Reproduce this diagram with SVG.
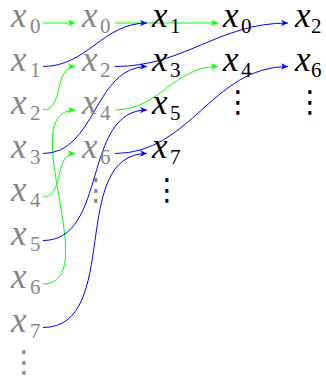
<svg xmlns="http://www.w3.org/2000/svg" width="326" height="376" viewBox="0 0 326 376">
<style>
.v{font-family:'Liberation Serif','DejaVu Serif',serif;font-style:italic;font-size:35px}
.s{font-family:'Liberation Serif','DejaVu Serif',serif;font-style:normal;font-size:21px}
.g{fill:#868686}
.k{fill:#000}
.d{font-family:'DejaVu Sans',sans-serif;font-size:30px;text-anchor:middle}
.lg{fill:none;stroke:#00ff00;stroke-width:1;marker-end:url(#ag)}
.lb{fill:none;stroke:#0000ff;stroke-width:1;marker-end:url(#ab)}
</style>
<defs>
<marker id="ag" markerUnits="userSpaceOnUse" markerWidth="10" markerHeight="10" viewBox="-8 -5 10 10" refX="0" refY="0" orient="auto" overflow="visible"><path d="M0,0 L-7,-3.3 L-5,0 L-7,3.3 Z" fill="#00ff00"/></marker>
<marker id="ab" markerUnits="userSpaceOnUse" markerWidth="10" markerHeight="10" viewBox="-8 -5 10 10" refX="0" refY="0" orient="auto" overflow="visible"><path d="M0,0 L-7,-3.3 L-5,0 L-7,3.3 Z" fill="#0000ff"/></marker>
</defs>
<g id="connectors">
<path class="lg" d="M43,23 L75,23"/>
<path class="lg" d="M43,110 C64.3,110 53.7,66.5 75,66.5"/>
<path class="lg" d="M43,197 C64.1,197 53.9,153.5 75,153.5"/>
<path class="lg" d="M43,284 C105,284 13,110 75,110"/>
<path class="lg" d="M115,23 L218,23"/>
<path class="lg" d="M115,110 C158.8,110 174.2,66.5 218,66.5"/>
<path class="lb" d="M43,66.5 C87.1,66.5 102.9,23 147,23"/>
<path class="lb" d="M43,153.5 C96.1,153.5 93.9,66.5 147,66.5"/>
<path class="lb" d="M43,240.5 C108.3,240.5 81.7,110 147,110"/>
<path class="lb" d="M43,327.5 C122.4,327.5 67.6,153.5 147,153.5"/>
<path class="lb" d="M115,66.5 C184.8,66.5 218.2,23 288,23"/>
<path class="lb" d="M115,153.5 C190.8,153.5 212.2,66.5 288,66.5"/>
</g>
<g id="c1" class="g">
<g id="a0"><text class="v" x="11" y="27">x</text><text class="s" x="30" y="33">0</text></g>
<g id="a1"><text class="v" x="11" y="70.5">x</text><text class="s" x="30" y="76.5">1</text></g>
<g id="a2"><text class="v" x="11" y="114">x</text><text class="s" x="30" y="120">2</text></g>
<g id="a3"><text class="v" x="11" y="157.5">x</text><text class="s" x="30" y="163.5">3</text></g>
<g id="a4"><text class="v" x="11" y="201">x</text><text class="s" x="30" y="207">4</text></g>
<g id="a5"><text class="v" x="11" y="244.5">x</text><text class="s" x="30" y="250.5">5</text></g>
<g id="a6"><text class="v" x="11" y="288">x</text><text class="s" x="30" y="294">6</text></g>
<g id="a7"><text class="v" x="11" y="331.5">x</text><text class="s" x="30" y="337.5">7</text></g>
<g id="a8"><text class="d" x="24" y="372">⋮</text></g>
</g>
<g id="c2" class="g">
<g id="b0"><text class="v" x="82" y="27">x</text><text class="s" x="100" y="33">0</text></g>
<g id="b2"><text class="v" x="82" y="70.5">x</text><text class="s" x="100" y="76.5">2</text></g>
<g id="b4"><text class="v" x="82" y="114">x</text><text class="s" x="100" y="120">4</text></g>
<g id="b6"><text class="v" x="82" y="157.5">x</text><text class="s" x="100" y="163.5">6</text></g>
<g id="b8"><text class="d" x="96" y="200">⋮</text></g>
</g>
<g id="c3" class="k">
<g id="e1"><text class="v" x="152" y="27">x</text><text class="s" x="170" y="33">1</text></g>
<g id="e3"><text class="v" x="152" y="70.5">x</text><text class="s" x="170" y="76.5">3</text></g>
<g id="e5"><text class="v" x="152" y="114">x</text><text class="s" x="170" y="120">5</text></g>
<g id="e7"><text class="v" x="152" y="157.5">x</text><text class="s" x="170" y="163.5">7</text></g>
<g id="e9"><text class="d" x="167" y="200">⋮</text></g>
</g>
<g id="c4" class="k">
<g id="f0"><text class="v" x="223" y="27">x</text><text class="s" x="241" y="33">0</text></g>
<g id="f4"><text class="v" x="223" y="70.5">x</text><text class="s" x="241" y="76.5">4</text></g>
<g id="f8"><text class="d" x="238" y="112">⋮</text></g>
</g>
<g id="c5" class="k">
<g id="h2"><text class="v" x="295" y="27">x</text><text class="s" x="311" y="33">2</text></g>
<g id="h6"><text class="v" x="295" y="70.5">x</text><text class="s" x="311" y="76.5">6</text></g>
<g id="h8"><text class="d" x="310" y="112">⋮</text></g>
</g>
</svg>
